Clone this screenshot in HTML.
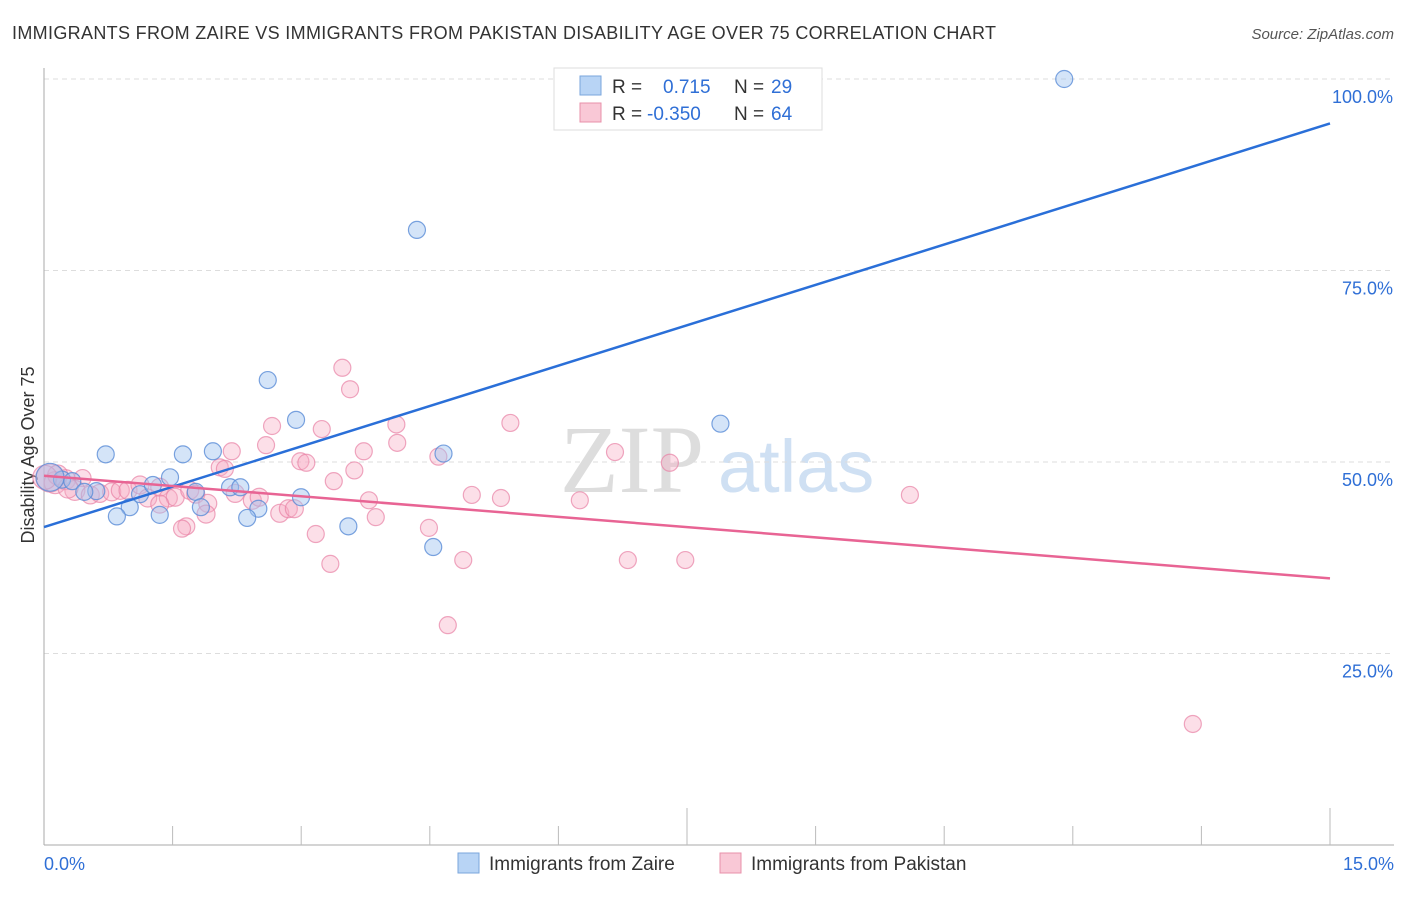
<!DOCTYPE html>
<html><head><meta charset="utf-8"><style>
body{margin:0;background:#fff;font-family:"Liberation Sans",sans-serif;}
</style></head><body>
<svg width="1406" height="892" xmlns="http://www.w3.org/2000/svg" id="svg">
<text x="12" y="39" font-size="18" fill="#333" textLength="984">IMMIGRANTS FROM ZAIRE VS IMMIGRANTS FROM PAKISTAN DISABILITY AGE OVER 75 CORRELATION CHART</text>
<text x="1394" y="39" font-size="15" fill="#555" font-style="italic" text-anchor="end">Source: ZipAtlas.com</text>
<text x="560" y="492" font-size="96" fill="#ddd" font-family="Liberation Serif,serif">ZIP</text>
<text x="718" y="492" font-size="74" fill="#cfe0f3">atlas</text>
<text transform="translate(34,455) rotate(-90)" font-size="18" fill="#333" text-anchor="middle">Disability Age Over 75</text>
<g id="grid"></g><g id="axes"></g><g id="pts"></g><g id="lines"></g>
<g>
<rect x="554" y="68" width="268" height="62" fill="#fff" stroke="#ddd"/>
<rect x="580" y="76" width="21" height="19" fill="#b8d4f5" stroke="#7aa6dc"/>
<rect x="580" y="103" width="21" height="19" fill="#f9c8d6" stroke="#e890aa"/>
<text x="612" y="93" font-size="19" fill="#333">R = </text><text x="663" y="93" font-size="19" fill="#2f6fd6">0.715</text>
<text x="734" y="93" font-size="19" fill="#333">N = </text><text x="771" y="93" font-size="19" fill="#2f6fd6">29</text>
<text x="612" y="120" font-size="19" fill="#333">R = </text><text x="647" y="120" font-size="19" fill="#2f6fd6">-0.350</text>
<text x="734" y="120" font-size="19" fill="#333">N = </text><text x="771" y="120" font-size="19" fill="#2f6fd6">64</text>
</g>
<g>
<rect x="458" y="853" width="21" height="20" fill="#b8d4f5" stroke="#7aa6dc"/>
<text x="489" y="870" font-size="19" fill="#333">Immigrants from Zaire</text>
<rect x="720" y="853" width="21" height="20" fill="#f9c8d6" stroke="#e890aa"/>
<text x="751" y="870" font-size="19" fill="#333">Immigrants from Pakistan</text>
</g>
</svg>
<script>
const zaireX=[11.9,4.35,2.61,2.94,7.89,0.72,1.62,1.97,4.66,1.47,0.21,0.33,0.61,0.47,1.12,1.27,1.77,2.17,2.29,2.998,1.0,1.83,2.5,0.85,1.35,2.37,3.55,4.54,0.07];
const zaireY=[100,80.3,60.7,55.5,55.0,51.0,51.0,51.4,51.1,48.0,47.7,47.5,46.2,46.1,45.8,47.0,46.1,46.7,46.7,45.4,44.1,44.1,43.9,42.9,43.1,42.7,41.6,38.9,48.0];
const pakX=[3.48,3.57,5.44,2.66,4.11,3.24,4.12,3.73,2.59,6.66,2.19,2.99,3.06,4.6,7.3,2.05,3.62,2.11,0.45,3.38,10.1,4.99,5.33,6.25,0.07,0.13,0.25,0.36,0.54,0.65,0.79,0.89,0.98,1.12,1.21,1.35,1.45,1.53,1.7,1.77,1.91,2.23,2.43,2.51,2.75,2.85,2.92,1.89,3.79,3.87,4.49,3.17,1.66,1.61,4.89,6.81,7.48,3.34,4.71,13.4,0.16,0.01,0.28,1.35];
const pakY=[62.3,59.5,55.1,54.7,54.9,54.3,52.5,51.4,52.2,51.3,51.4,50.1,49.9,50.7,49.9,49.3,48.9,49.1,47.9,47.5,45.7,45.7,45.3,45.0,47.9,47.3,47.7,46.3,45.7,45.9,46.1,46.3,46.3,47.0,45.3,46.7,45.3,45.4,46.3,45.8,44.6,45.9,45.0,45.4,43.3,43.9,43.9,43.2,45.0,42.8,41.4,40.6,41.6,41.3,37.2,37.2,37.2,36.7,28.7,15.8,48.3,48.0,46.6,44.5];
const pakR=[8.5,8.5,8.5,8.5,8.5,8.5,8.5,8.5,8.5,8.5,8.5,8.5,8.5,8.5,8.5,8.5,8.5,8.5,8.5,8.5,8.5,8.5,8.5,8.5,14,11,10,10,9,9,9,9,9,9,9,9,9,9,9,9,9,9,9,9,9,9,9,9,8.5,8.5,8.5,8.5,8.5,8.5,8.5,8.5,8.5,8.5,8.5,8.5,10,12,10,9];
const zaireLine=[0,41.5,15,94.2];
const pakLine=[0,48.2,15,34.8];
const yTicks=[25,50,75,100];
const X=v=>44+v/15*1286, Y=v=>845-v/100*766;
const NS='http://www.w3.org/2000/svg';
function mk(parent,tag,attrs){const e=document.createElementNS(NS,tag);for(const k in attrs)e.setAttribute(k,attrs[k]);document.getElementById(parent).appendChild(e);return e;}
yTicks.forEach(t=>{
 const l=mk('grid','line',{x1:44,x2:1394,y1:Y(t),y2:Y(t),stroke:'#ddd','stroke-dasharray':'5,4'});
 
 
 const tx=mk('grid','text',{x:1393,y:Y(t)+24,'font-size':18,fill:'#2f6fd6','text-anchor':'end'});
 tx.textContent=t.toFixed(1)+'%';
 
 
});
const ax=mk('axes','line',{x1:44,x2:44,y1:68,y2:845,stroke:'#aaa'});


const bx=mk('axes','line',{x1:44,x2:1394,y1:845,y2:845,stroke:'#aaa'});


for(let i=1;i<=10;i++){const t=mk('axes','line',{x1:X(i*1.5),x2:X(i*1.5),y1:i%5==0?808:826,y2:845,stroke:'#bbb'});
 
 }
[['0.0%',44,'start'],['15.0%',1394,'end']].forEach(a=>{const t=mk('axes','text',{x:a[1],y:870,'font-size':18,fill:'#2f6fd6','text-anchor':a[2]});t.textContent=a[0];
 
 });
pakX.forEach((x,i)=>{const c=mk('pts','circle',{cx:X(x),cy:Y(pakY[i]),r:pakR[i],fill:'rgba(246,170,195,0.38)',stroke:'rgba(232,130,165,0.7)','stroke-width':1.2});
 
 });
zaireX.forEach((x,i)=>{const c=mk('pts','circle',{cx:X(x),cy:Y(zaireY[i]),r:i==28?14:8.5,fill:'rgba(160,196,240,0.45)',stroke:'rgba(90,140,215,0.8)','stroke-width':1.2});
 
 });
const bl=mk('lines','line',{x1:X(zaireLine[0]),y1:Y(zaireLine[1]),x2:X(zaireLine[2]),y2:Y(zaireLine[3]),stroke:'#2a6fd8','stroke-width':2.5});


const pl=mk('lines','line',{x1:X(pakLine[0]),y1:Y(pakLine[1]),x2:X(pakLine[2]),y2:Y(pakLine[3]),stroke:'#e86494','stroke-width':2.5});


</script>
</body></html>
